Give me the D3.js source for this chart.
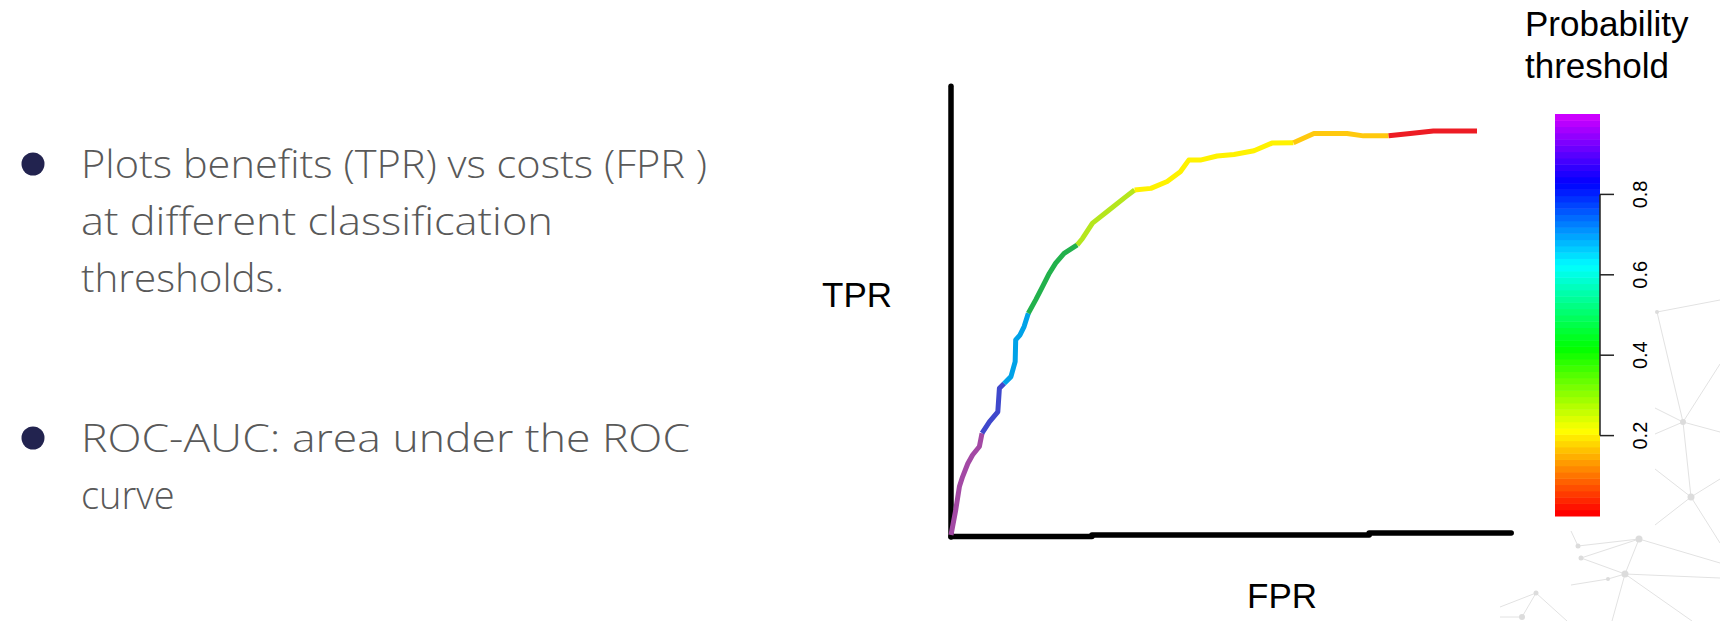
<!DOCTYPE html>
<html>
  <head>
    <style>
      body { margin: 0; background: #fff; }
    </style>
  </head>
  <body>
    <script src="https://d3js.org/d3.v7.min.js"></script>
    <script>
      // ROC curve points
      var fprValues = [0, 0.009, 0.016, 0.022, 0.032, 0.041, 0.054, 0.059, 0.073, 0.089, 0.092, 0.101,
        0.114, 0.122, 0.123, 0.131, 0.139, 0.147, 0.161, 0.174, 0.187, 0.199, 0.215, 0.240,
        0.250, 0.269, 0.300, 0.332, 0.349, 0.380, 0.411, 0.436, 0.452, 0.474, 0.506, 0.538,
        0.576, 0.610, 0.651, 0.690, 0.753, 0.784, 0.832, 0.873, 0.917, 1.0];
      var tprValues = [0, 0.062, 0.120, 0.144, 0.177, 0.198, 0.219, 0.252, 0.280, 0.305, 0.363, 0.375,
        0.392, 0.429, 0.483, 0.495, 0.516, 0.549, 0.582, 0.615, 0.648, 0.673, 0.697, 0.718,
        0.734, 0.772, 0.804, 0.837, 0.854, 0.858, 0.875, 0.899, 0.928, 0.928, 0.938, 0.942,
        0.951, 0.970, 0.971, 0.994, 0.994, 0.988, 0.988, 0.994, 1.0, 1.0];

      // colour bands along the curve (end FPR of each band)
      var bandEnds = [0.059, 0.101, 0.147, 0.240, 0.349, 0.651, 0.832, 1.0];
      var bandColors = ["#a349a4", "#3f48cc", "#00a2e8", "#22b14c", "#b5e61d", "#fff200", "#ffc90e", "#ed1c24"];

      // colour key
      var keyTicks = [0.2, 0.4, 0.6, 0.8];
      var keyTitle = ["Probability", "threshold"];

      var bullets = [
        ["Plots benefits (TPR) vs costs (FPR )", "at different classification", "thresholds."],
        ["ROC-AUC: area under the ROC", "curve"]
      ];

      // faint slide decoration, bottom right
      var netNodes = [[1657,312],[1683,422],[1691,497],[1639,539],[1578,546],[1581,558],[1625,574],
        [1608,579],[1536,593],[1522,617],[1720,300],[1655,408],[1655,434],[1720,432],[1720,364],
        [1655,469],[1720,479],[1655,525],[1720,543],[1720,578],[1720,563],[1612,621],[1692,621],
        [1571,585],[1500,607],[1567,621],[1500,617],[1571,531]];
      var netDots = [2, 3, 3.5, 3.5, 2.5, 2.5, 3.5, 2, 2.5, 3];
      var netEdges = [[0,10],[0,1],[1,2],[1,11],[1,12],[1,13],[1,14],[2,15],[2,16],[2,17],[2,18],
        [3,4],[3,5],[3,6],[3,20],[5,6],[4,27],[6,19],[6,7],[7,23],[6,21],[6,22],[8,24],[8,9],[8,25],[9,26]];

      var svgContainer;
      var x, y, keyY;

      main();

      function main(){
        svgContainer = d3.select("body")
          .append("svg")
          .attr("width", 1720)
          .attr("height", 621);

        drawNet();
        drawText();
        drawRoc();
        drawKey();
      }

      function drawNet(){
        var net = svgContainer.append("g");
        net.selectAll("line")
          .data(netEdges)
          .enter().append("line")
          .attr("x1", function(d){ return netNodes[d[0]][0]; })
          .attr("y1", function(d){ return netNodes[d[0]][1]; })
          .attr("x2", function(d){ return netNodes[d[1]][0]; })
          .attr("y2", function(d){ return netNodes[d[1]][1]; })
          .style("stroke", "#e2e2e2").style("stroke-width", 1);
        net.selectAll("circle")
          .data(netDots)
          .enter().append("circle")
          .attr("cx", function(d, i){ return netNodes[i][0]; })
          .attr("cy", function(d, i){ return netNodes[i][1]; })
          .attr("r", function(d){ return d; })
          .attr("fill", "#dcdcdc");
      }

      function drawText(){
        var tops = [178, 452];
        // only the long lines get stretched to the slide widths
        var widths = [[626, 472, 203], [609, null]];
        bullets.forEach(function(lines, i){
          svgContainer.append("circle")
            .attr("cx", 33).attr("cy", tops[i] - 14)
            .attr("r", 11.5)
            .attr("fill", "#22234f");
          lines.forEach(function(t, j){
            var txt = svgContainer.append("text")
              .attr("x", 81)
              .attr("y", tops[i] + j * 57)
              .style("font-family", "'Open Sans', sans-serif")
              .style("font-weight", 300)
              .style("font-size", "38px")
              .style("fill", "#595959")
              .text(t);
            if (widths[i][j])
              txt.attr("textLength", widths[i][j]).attr("lengthAdjust", "spacingAndGlyphs");
          });
        });
      }

      function drawRoc(){
        x = d3.scaleLinear().domain([0, 1]).range([951, 1477]);
        y = d3.scaleLinear().domain([0, 1]).range([535, 131]);

        // hand drawn looking axes
        svgContainer.append("line")
          .attr("x1", x(0)).attr("y1", y(0) + 2)
          .attr("x2", x(0)).attr("y2", y(1.111))
          .style("stroke", "black").style("stroke-width", 5.5)
          .style("stroke-linecap", "round");
        var xsteps = [[0, 0.268, -0.004], [0.268, 0.795, 0], [0.795, 1.065, 0.005]];
        xsteps.forEach(function(s){
          svgContainer.append("line")
            .attr("x1", x(s[0])).attr("y1", y(s[2]))
            .attr("x2", x(s[1])).attr("y2", y(s[2]))
            .style("stroke", "black").style("stroke-width", 5.5)
            .style("stroke-linecap", "round");
        });

        var pts = fprValues.map(function(f, i){ return [f, tprValues[i]]; });
        var line = d3.line()
          .x(function(d){ return x(d[0]); })
          .y(function(d){ return y(d[1]); });

        var start = 0;
        bandEnds.forEach(function(end, i){
          var seg = pts.filter(function(p){ return p[0] >= start && p[0] <= end; });
          svgContainer.append("path")
            .attr("d", line(seg))
            .style("fill", "none")
            .style("stroke", bandColors[i])
            .style("stroke-width", 5)
            .style("stroke-linejoin", "round");
          start = end;
        });

        svgContainer.append("text")
          .attr("x", 857).attr("y", 307)
          .attr("text-anchor", "middle")
          .style("font-family", "Liberation Sans, Arial, sans-serif")
          .style("font-size", "35px")
          .text("TPR");
        svgContainer.append("text")
          .attr("x", 1282).attr("y", 608)
          .attr("text-anchor", "middle")
          .style("font-family", "Liberation Sans, Arial, sans-serif")
          .style("font-size", "35px")
          .text("FPR");
      }

      function drawKey(){
        keyY = d3.scaleLinear().domain([0, 1]).range([516, 114]);
        var n = 64;
        var steps = d3.range(n).map(function(i){ return i / n; });
        svgContainer.selectAll("rect.band")
          .data(steps)
          .enter().append("rect")
          .attr("class", "band")
          .attr("x", 1555)
          .attr("width", 45)
          .attr("y", function(d){ return keyY(d + 1 / n); })
          .attr("height", function(d){ return keyY(d) - keyY(d + 1 / n) + 0.5; })
          .attr("fill", function(d){ return d3.hsl(d * n / (n - 1) * 0.8 * 360, 1, 0.5); });

        svgContainer.append("line")
          .attr("x1", 1600).attr("x2", 1600)
          .attr("y1", keyY(0.2)).attr("y2", keyY(0.8))
          .style("stroke", "#222").style("stroke-width", 1.5);
        var g = svgContainer.selectAll("g.tick")
          .data(keyTicks)
          .enter().append("g")
          .attr("class", "tick");
        g.append("line")
          .attr("x1", 1600).attr("x2", 1614)
          .attr("y1", function(d){ return keyY(d); })
          .attr("y2", function(d){ return keyY(d); })
          .style("stroke", "#222").style("stroke-width", 1.5);
        g.append("text")
          .attr("transform", function(d){ return "translate(1647," + keyY(d) + ") rotate(-90)"; })
          .attr("text-anchor", "middle")
          .style("font-family", "Liberation Sans, Arial, sans-serif")
          .style("font-size", "20px")
          .text(function(d){ return d3.format(".1f")(d); });

        keyTitle.forEach(function(t, i){
          svgContainer.append("text")
            .attr("x", 1525).attr("y", 36 + i * 42)
            .style("font-family", "Liberation Sans, Arial, sans-serif")
            .style("font-size", "35px")
            .text(t);
        });
      }
    </script>
  </body>
</html>
